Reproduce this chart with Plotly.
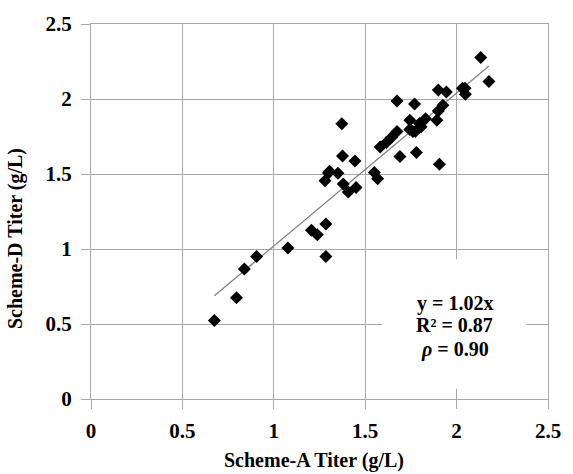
import plotly.graph_objects as go

scheme_a = [0.675, 0.796, 0.839, 0.906, 1.077, 1.206, 1.238, 1.285, 1.285, 1.280,
            1.299, 1.305, 1.351, 1.372, 1.376, 1.380, 1.407, 1.444, 1.450, 1.550,
            1.568, 1.582, 1.616, 1.645, 1.674, 1.674, 1.690, 1.744, 1.744, 1.761,
            1.774, 1.770, 1.780, 1.797, 1.806, 1.830, 1.892, 1.906, 1.900, 1.925,
            1.900, 1.944, 2.032, 2.046, 2.048, 2.132, 2.177]
scheme_d = [0.524, 0.675, 0.866, 0.950, 1.007, 1.125, 1.095, 1.167, 0.950, 1.455,
            1.507, 1.518, 1.505, 1.835, 1.620, 1.433, 1.380, 1.586, 1.410, 1.510,
            1.468, 1.680, 1.710, 1.745, 1.784, 1.986, 1.617, 1.859, 1.797, 1.784,
            1.784, 1.966, 1.644, 1.837, 1.815, 1.868, 1.859, 1.565, 1.920, 1.958,
            2.060, 2.047, 2.072, 2.072, 2.032, 2.276, 2.116]
slope = 1.02
tick_vals = [0, 0.5, 1, 1.5, 2, 2.5]
tick_text = ["0", "0.5", "1", "1.5", "2", "2.5"]
stats_lines = ["y = 1.02x", "R² = 0.87", "<i>ρ</i> = 0.90"]

FONT = "Liberation Serif"
GRID = "#a8a8a8"

x_fit = [min(scheme_a), max(scheme_a)]
y_fit = [slope * v for v in x_fit]

fig = go.Figure()
fig.add_trace(go.Scatter(x=x_fit, y=y_fit, mode="lines",
                         line=dict(color="#7f7f7f", width=1.2),
                         hoverinfo="skip", showlegend=False))
fig.add_trace(go.Scatter(x=scheme_a, y=scheme_d, mode="markers",
                         marker=dict(symbol="diamond", size=10, color="black"),
                         showlegend=False))

# white box behind statistics text
fig.add_shape(type="rect", xref="x", yref="y", x0=1.593, x1=2.383, y0=0.069, y1=0.932,
              fillcolor="white", line=dict(width=0), layer="between")

for txt, yy in zip(stats_lines, [0.636, 0.491, 0.333]):
    fig.add_annotation(x=1.991, y=yy, xref="x", yref="y", text="<b>" + txt + "</b>",
                       xanchor="center", yanchor="middle",
                       showarrow=False, font=dict(family=FONT, size=20, color="black"))

fig.add_annotation(x=-0.165, y=0.428, xref="paper", yref="paper", textangle=-90,
                   xanchor="center", yanchor="middle",
                   text="<b>Scheme-D Titer (g/L)</b>", showarrow=False,
                   font=dict(family=FONT, size=20, color="black"))
fig.add_annotation(x=0.489, y=-0.163, xref="paper", yref="paper",
                   xanchor="center", yanchor="middle",
                   text="<b>Scheme-A Titer (g/L)</b>", showarrow=False,
                   font=dict(family=FONT, size=20, color="black"))

axis_common = dict(range=[0, 2.5], tickvals=tick_vals, ticktext=["<b>%s</b>" % t for t in tick_text],
                   showgrid=True, gridcolor=GRID, gridwidth=1,
                   zeroline=False, showline=True, linecolor=GRID, linewidth=1, mirror=True,
                   ticks="outside", ticklen=9, tickcolor=GRID, tickwidth=1,
                   tickfont=dict(family=FONT, size=21, color="black"))

fig.update_xaxes(**axis_common, ticklabelstandoff=4)
fig.update_yaxes(**axis_common, ticklabelstandoff=5)

fig.update_layout(width=573, height=474,
                  margin=dict(l=91, r=17, t=20, b=75),
                  plot_bgcolor="white", paper_bgcolor="white",
                  hovermode=False)

fig.write_html("out.html")
